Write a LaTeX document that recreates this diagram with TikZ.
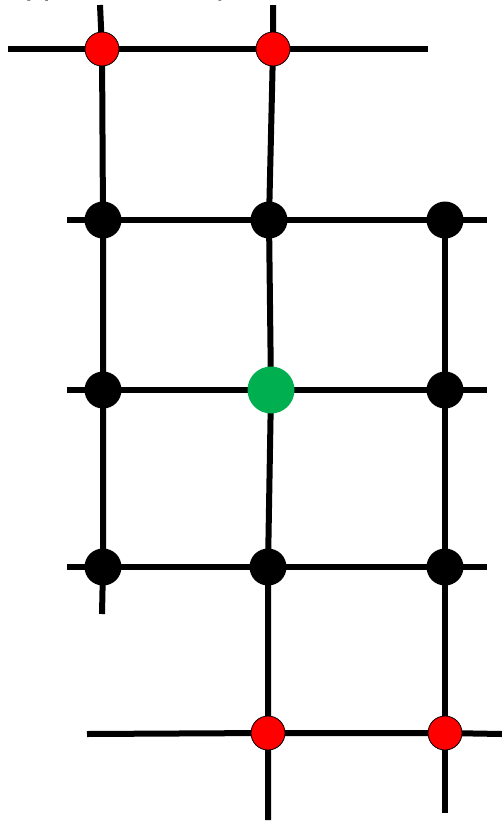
\documentclass[tikz,border=0pt]{standalone}
\usepackage{fontspec}
\setmainfont{Carlito}
\usetikzlibrary{backgrounds}
\begin{document}
\begin{tikzpicture}[x=1pt,y=-1pt,
  wire/.style={line width=6pt},
  blk/.style={circle,fill=black,inner sep=0pt,minimum size=37pt},
  rednode/.style={circle,fill=red,draw=black,line width=0.8pt,inner sep=0pt,minimum size=34pt},
  grn/.style={circle,fill={rgb,255:red,0;green,176;blue,80},inner sep=0pt,minimum size=47pt}]
\useasboundingbox (0,0) rectangle (502,822);
\begin{scope}
\clip (0,0) rectangle (502,822);
\node[anchor=base west,font=\fontsize{34}{40}\selectfont,inner sep=0pt] (title) at (3,-4.5) {Upper boundary};
\end{scope}
% nodes
\node[rednode] (r1) at (102,49) {};
\node[rednode] (r2) at (273,49) {};
\node[blk] (a1) at (103,220) {};
\node[blk] (a2) at (269,220) {};
\node[blk] (a3) at (445,220) {};
\node[blk] (b1) at (103,390) {};
\node[grn] (b2) at (271,390) {};
\node[blk] (b3) at (445,390) {};
\node[blk] (c1) at (103,567) {};
\node[blk] (c2) at (268,567) {};
\node[blk] (c3) at (445,567) {};
\node[rednode] (d2) at (268,733) {};
\node[rednode] (d3) at (445,733) {};
% free ends
\coordinate (t0) at (8,49);
\coordinate (t3) at (428,49);
\coordinate (v1top) at (100,5);
\coordinate (v2top) at (273,5);
\coordinate (v1bot) at (102,614);
\coordinate (v2bot) at (268,820);
\coordinate (v3bot) at (445,813);
\coordinate (a0) at (67,220);
\coordinate (a4) at (487,220);
\coordinate (b0) at (67,390);
\coordinate (b4) at (487,390);
\coordinate (c0) at (67,567);
\coordinate (c4) at (487,567);
\coordinate (d0) at (87,734);
\coordinate (d4) at (502,734);
\begin{scope}[on background layer]
\draw[wire] (t0) -- (r1.center) -- (r2.center) -- (t3);
\draw[wire] (a0) -- (a1.center) -- (a2.center) -- (a3.center) -- (a4);
\draw[wire] (b0) -- (b1.center) -- (b2.center) -- (b3.center) -- (b4);
\draw[wire] (c0) -- (c1.center) -- (c2.center) -- (c3.center) -- (c4);
\draw[wire] (d0) -- (d2.center) -- (d3.center) -- (d4);
\draw[wire] (v1top) -- (r1.center) -- (a1.center) -- (b1.center) -- (c1.center) -- (v1bot);
\draw[wire] (v2top) -- (r2.center) -- (a2.center) -- (b2.center) -- (c2.center) -- (d2.center) -- (v2bot);
\draw[wire] (a3.center) -- (b3.center) -- (c3.center) -- (d3.center) -- (v3bot);
\end{scope}
\end{tikzpicture}
\end{document}
